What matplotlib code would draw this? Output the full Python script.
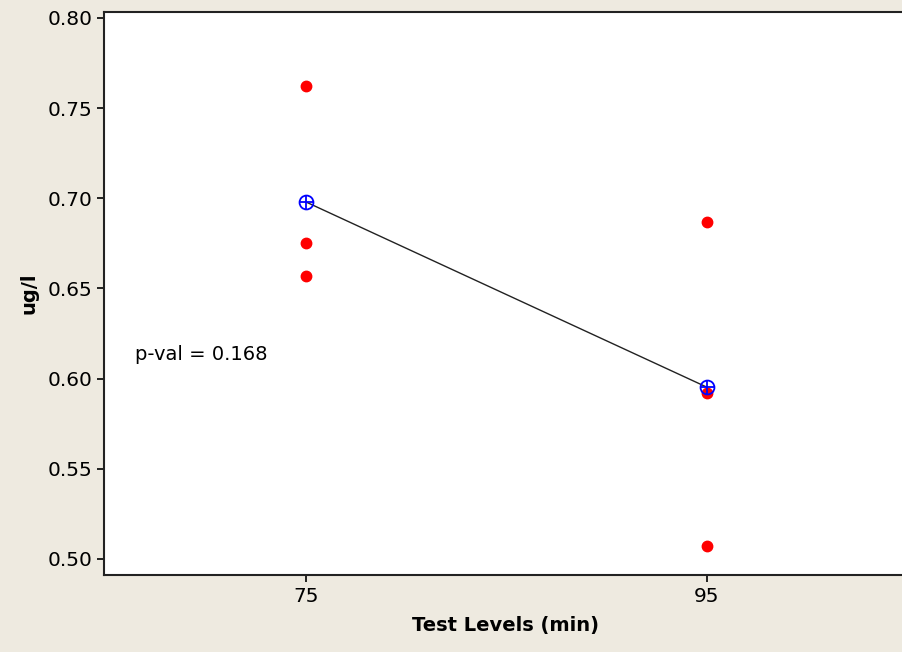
import matplotlib.pyplot as plt
import numpy as np

# test levels (min) and measured values (ug/l)
levels = [75, 95]
obs_75 = [0.762, 0.675, 0.657]
obs_95 = [0.687, 0.592, 0.507]
means = [np.mean(obs_75), np.mean(obs_95)]
p_val = 0.168

plt.rcParams['font.family'] = ['DejaVu Sans']

fig = plt.figure(figsize=(9.02, 6.52), dpi=100, facecolor='#eeeae0')
ax = fig.add_axes([0.1153, 0.1181, 0.8902, 0.8635])
ax.set_facecolor('white')

# individual observations
ax.plot([levels[0]] * len(obs_75), obs_75, 'o', color='red', ms=7.5, mec='red', zorder=3)
ax.plot([levels[1]] * len(obs_95), obs_95, 'o', color='red', ms=7.5, mec='red', zorder=3)

# mean line with crossed circles
ax.plot(levels, means, '-', color='#222222', lw=1.0, zorder=2)
ax.plot(levels, means, 'o', mfc='none', mec='blue', ms=10, mew=1.3, zorder=4)
ax.plot(levels, means, '+', color='blue', ms=10, mew=1.3, zorder=4)

ax.text(66.5, 0.6131, f'p-val = {p_val}', fontsize=14, va='center', ha='left')

ax.set_xlim(64.93, 105)
ax.set_ylim(0.4911, 0.8033)
ax.set_xticks(levels)
ax.set_yticks([0.50, 0.55, 0.60, 0.65, 0.70, 0.75, 0.80])
ax.set_yticklabels(['0.50', '0.55', '0.60', '0.65', '0.70', '0.75', '0.80'])
ax.tick_params(labelsize=14.5, length=5, width=1.2, direction='out')

for s in ax.spines.values():
    s.set_linewidth(1.5)
    s.set_color('#222222')
ax.spines['right'].set_visible(False)

ax.set_xlabel('Test Levels (min)', fontsize=14, fontweight='bold', labelpad=7)
ax.set_ylabel('ug/l', fontsize=14, fontweight='bold', labelpad=6)

fig.savefig('out.png', dpi=100, facecolor=fig.get_facecolor())
